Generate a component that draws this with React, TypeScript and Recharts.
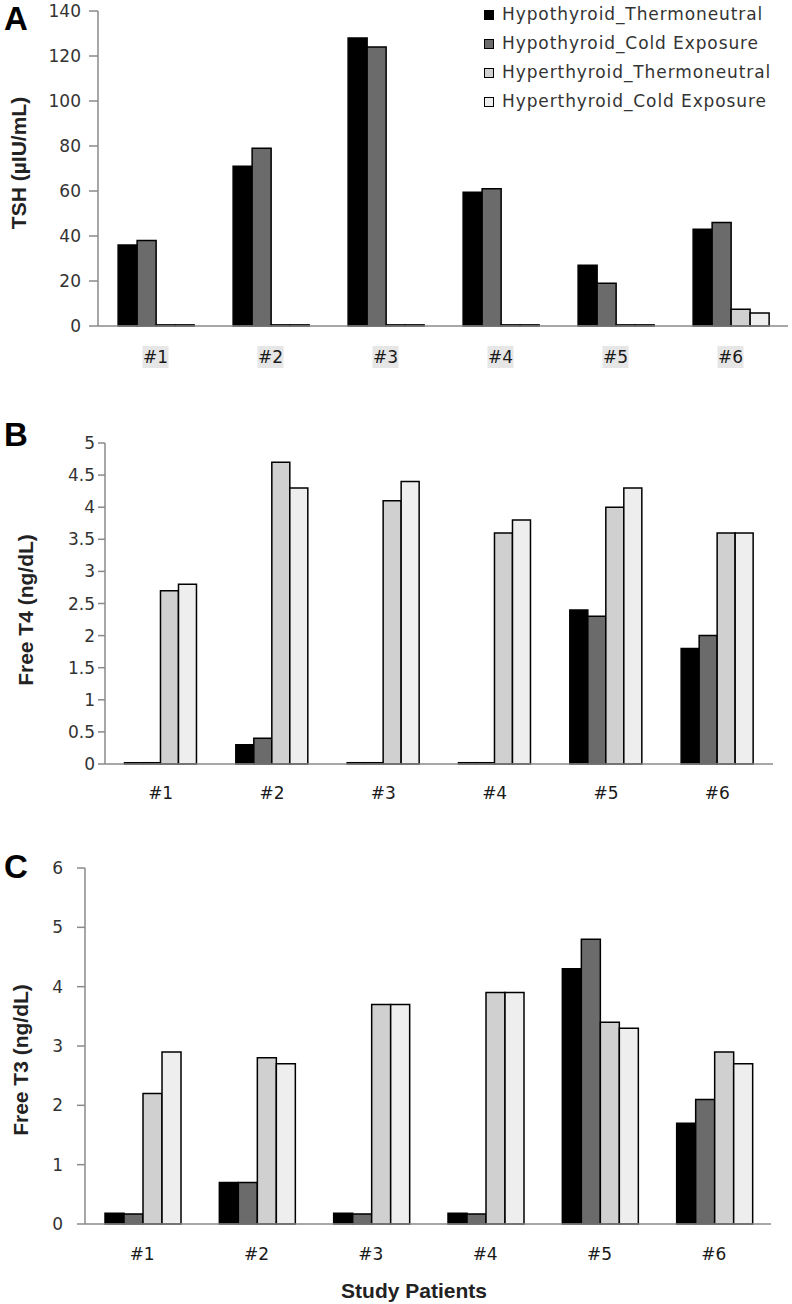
import React from 'react';
import { BarChart, Bar, XAxis, YAxis, Legend } from 'recharts';

const patients = ['#1', '#2', '#3', '#4', '#5', '#6'];

// panel A - TSH (µIU/mL)
const tshHypoThermo = [36, 71, 128, 59.5, 27, 43];
const tshHypoCold = [38, 79, 124, 61, 19, 46];
const tshHyperThermo = [0.5, 0.5, 0.5, 0.5, 0.5, 7.5];
const tshHyperCold = [0.5, 0.5, 0.5, 0.5, 0.5, 5.8];
const tshTicks = [0, 20, 40, 60, 80, 100, 120, 140];

// panel B - Free T4 (ng/dL)
const t4HypoThermo = [0.02, 0.3, 0.02, 0.02, 2.4, 1.8];
const t4HypoCold = [0.02, 0.4, 0.02, 0.02, 2.3, 2.0];
const t4HyperThermo = [2.7, 4.7, 4.1, 3.6, 4.0, 3.6];
const t4HyperCold = [2.8, 4.3, 4.4, 3.8, 4.3, 3.6];
const t4Ticks = [0, 0.5, 1, 1.5, 2, 2.5, 3, 3.5, 4, 4.5, 5];

// panel C - Free T3 (ng/dL)
const t3HypoThermo = [0.18, 0.7, 0.18, 0.18, 4.3, 1.7];
const t3HypoCold = [0.17, 0.7, 0.17, 0.17, 4.8, 2.1];
const t3HyperThermo = [2.2, 2.8, 3.7, 3.9, 3.4, 2.9];
const t3HyperCold = [2.9, 2.7, 3.7, 3.9, 3.3, 2.7];
const t3Ticks = [0, 1, 2, 3, 4, 5, 6];

const SERIES = [
  { key: 'hypoThermo', name: 'Hypothyroid_Thermoneutral', fill: '#000000' },
  { key: 'hypoCold', name: 'Hypothyroid_Cold Exposure', fill: '#6b6b6b' },
  { key: 'hyperThermo', name: 'Hyperthyroid_Thermoneutral', fill: '#d0d0d0' },
  { key: 'hyperCold', name: 'Hyperthyroid_Cold Exposure', fill: '#eeeeee' },
];

const build = (a: number[], b: number[], c: number[], d: number[]) =>
  patients.map((p, i) => ({ patient: p, hypoThermo: a[i], hypoCold: b[i], hyperThermo: c[i], hyperCold: d[i] }));

const FONT = '"DejaVu Sans", Verdana, sans-serif';
const BOLD = '"Liberation Sans", Arial, sans-serif';
const AXIS = '#8a8a8a';

const order = (name: string) => SERIES.findIndex((s) => s.name === name);

const LegendBox = (props: any) => {
  const items = [...(props.payload || [])].sort((a: any, b: any) => order(a.value) - order(b.value));
  return (
    <div style={{ fontFamily: FONT, fontSize: 17, letterSpacing: 0.9, color: '#333', lineHeight: '29px' }}>
      {items.map((e: any) => (
        <div key={e.value} style={{ display: 'flex', alignItems: 'center', whiteSpace: 'nowrap' }}>
          <span style={{ width: 8, height: 8, background: e.color, border: '1.5px solid #000', marginRight: 8, display: 'inline-block' }} />
          {e.value}
        </div>
      ))}
    </div>
  );
};

const makeTick = (dy: number, shaded: boolean) => (props: any) => {
  const { x, y, payload } = props;
  return (
    <g>
      {shaded && <rect x={x - 13} y={y + dy - 11} width={26} height={22} fill="#e6e6e6" />}
      <text x={x} y={y + dy} textAnchor="middle" dominantBaseline="central" fontFamily={FONT} fontSize={17} fill="#1a1a1a">
        {payload.value}
      </text>
    </g>
  );
};

interface PanelProps {
  data: any[];
  ticks: number[];
  top: number;
  height: number;
  marginTop: number;
  marginRight: number;
  yWidth: number;
  xHeight: number;
  tickSize: number;
  tickMargin: number;
  xDy: number;
  shaded?: boolean;
  legend?: boolean;
  letter: string;
  letterTop: number;
  yLabel: string;
  yLabelX: number;
  yLabelY: number;
  xTitle?: string;
}

const Panel = (p: PanelProps) => (
  <div style={{ position: 'absolute', left: 0, top: p.top, width: 792, height: p.height }}>
    <BarChart
      width={792}
      height={p.height}
      data={p.data}
      margin={{ top: p.marginTop, right: p.marginRight, left: 0, bottom: 0 }}
      barCategoryGap="17.5%"
      barGap={0}
    >
      <XAxis
        dataKey="patient"
        height={p.xHeight}
        axisLine={{ stroke: AXIS, strokeWidth: 1.5 }}
        tickLine={false}
        tickSize={0}
        tickMargin={0}
        interval={0}
        tick={makeTick(p.xDy, !!p.shaded)}
        label={
          p.xTitle
            ? () => (
                <text x={414} y={480} textAnchor="middle" dominantBaseline="central" fontFamily={BOLD} fontWeight="bold" fontSize={21} fill="#222">
                  {p.xTitle}
                </text>
              )
            : undefined
        }
      />
      <YAxis
        width={p.yWidth}
        domain={[p.ticks[0], p.ticks[p.ticks.length - 1]]}
        ticks={p.ticks}
        interval={0}
        axisLine={{ stroke: AXIS, strokeWidth: 1.5 }}
        tickLine={{ stroke: AXIS, strokeWidth: 1.5 }}
        tickSize={p.tickSize}
        tickMargin={p.tickMargin}
        tick={{ fontFamily: FONT, fontSize: 17, fill: '#333' }}
        label={() => (
          <text
            x={p.yLabelX}
            y={p.yLabelY}
            transform={`rotate(-90 ${p.yLabelX} ${p.yLabelY})`}
            textAnchor="middle"
            dominantBaseline="central"
            fontFamily={BOLD}
            fontWeight="bold"
            fontSize={21}
            fill="#222"
          >
            {p.yLabel}
          </text>
        )}
      />
      {p.legend && (
        <Legend
          layout="vertical"
          align="center"
          verticalAlign="middle"
          content={<LegendBox />}
          wrapperStyle={{ position: 'absolute', left: 484, top: 0, width: 305 }}
        />
      )}
      {SERIES.map((s) => (
        <Bar key={s.key} dataKey={s.key} name={s.name} fill={s.fill} stroke="#000" strokeWidth={1.5} isAnimationActive={false} />
      ))}
    </BarChart>
    <div
      style={{
        position: 'absolute',
        left: 4,
        top: p.letterTop,
        fontFamily: BOLD,
        fontWeight: 'bold',
        fontSize: 33,
        lineHeight: '33px',
        color: '#000',
      }}
    >
      {p.letter}
    </div>
  </div>
);

export default function App() {
  return (
    <div style={{ position: 'absolute', left: 0, top: 0, width: 792, height: 1304, background: '#fff', overflow: 'hidden' }}>
      <Panel
        data={build(tshHypoThermo, tshHypoCold, tshHyperThermo, tshHyperCold)}
        ticks={tshTicks}
        top={0}
        height={380}
        marginTop={11}
        marginRight={4}
        yWidth={98}
        xHeight={54}
        tickSize={9}
        tickMargin={8}
        xDy={31}
        shaded
        legend
        letter="A"
        letterTop={2}
        yLabel="TSH (µIU/mL)"
        yLabelX={18}
        yLabelY={163}
      />
      <Panel
        data={build(t4HypoThermo, t4HypoCold, t4HyperThermo, t4HyperCold)}
        ticks={t4Ticks}
        top={380}
        height={430}
        marginTop={63}
        marginRight={19}
        yWidth={105}
        xHeight={46}
        tickSize={7}
        tickMargin={3}
        xDy={29}
        letter="B"
        letterTop={38}
        yLabel="Free T4 (ng/dL)"
        yLabelX={25}
        yLabelY={230}
      />
      <Panel
        data={build(t3HypoThermo, t3HypoCold, t3HyperThermo, t3HyperCold)}
        ticks={t3Ticks}
        top={810}
        height={494}
        marginTop={58}
        marginRight={21}
        yWidth={85}
        xHeight={80}
        tickSize={8}
        tickMargin={14}
        xDy={30}
        letter="C"
        letterTop={40}
        yLabel="Free T3 (ng/dL)"
        yLabelX={20}
        yLabelY={250}
        xTitle="Study Patients"
      />
    </div>
  );
}
